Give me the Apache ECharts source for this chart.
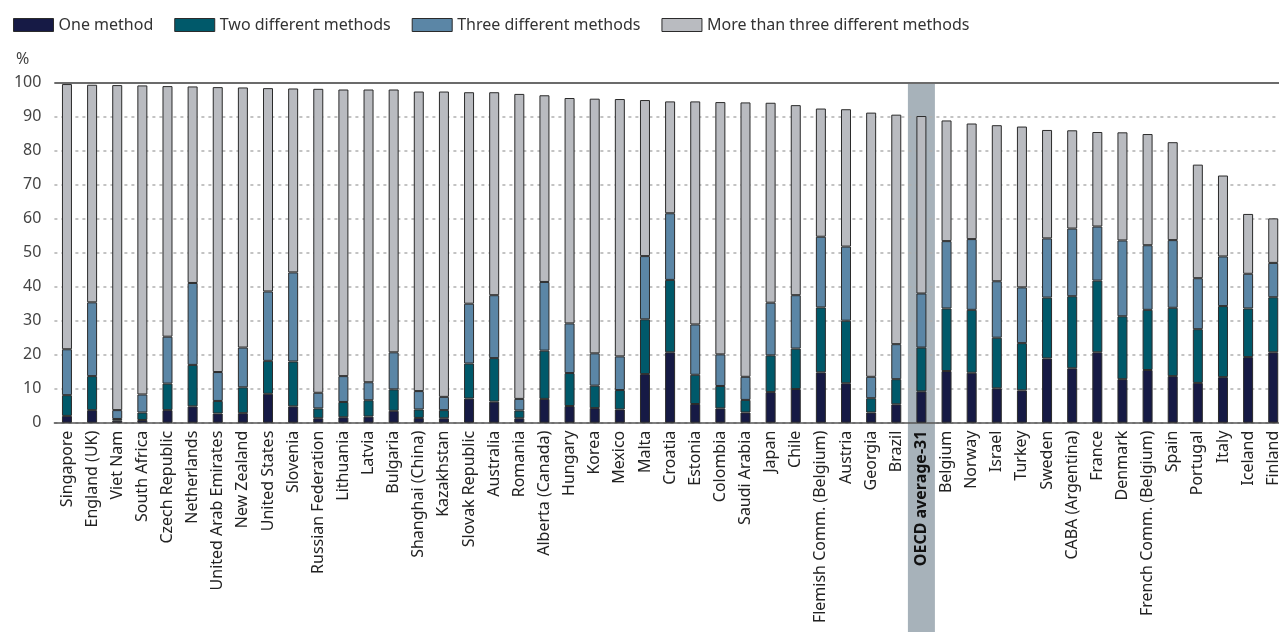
<!DOCTYPE html>
<html>
<head>
<meta charset="utf-8">
<script src="https://cdn.jsdelivr.net/npm/echarts@6/dist/echarts.min.js"></script>
<style>
html,body{margin:0;padding:0;background:#fff;overflow:hidden;}
#chart{width:1287px;height:632px;}
</style>
</head>
<body>
<div id="chart"></div>
<script>
const categories = ["Singapore","England (UK)","Viet Nam","South Africa","Czech Republic","Netherlands","United Arab Emirates","New Zealand","United States","Slovenia","Russian Federation","Lithuania","Latvia","Bulgaria","Shanghai (China)","Kazakhstan","Slovak Republic","Australia","Romania","Alberta (Canada)","Hungary","Korea","Mexico","Malta","Croatia","Estonia","Colombia","Saudi Arabia","Japan","Chile","Flemish Comm. (Belgium)","Austria","Georgia","Brazil","OECD average-31","Belgium","Norway","Israel","Turkey","Sweden","CABA (Argentina)","France","Denmark","French Comm. (Belgium)","Spain","Portugal","Italy","Iceland","Finland"];

const oneMethod = [2.0,3.7,0.6,0.8,3.7,4.8,2.7,2.8,8.5,4.8,1.3,1.6,1.8,3.5,1.4,1.3,7.1,6.2,1.3,7.0,4.9,4.3,3.9,14.3,20.7,5.5,4.2,3.0,9.0,9.9,14.8,11.6,3.0,5.4,9.2,15.2,14.7,10.1,9.5,18.9,16.0,20.7,12.8,15.5,13.7,11.7,13.4,19.3,20.7];

const twoMethods = [6.1,10.0,0.5,2.2,7.8,12.2,3.7,7.6,9.7,13.2,2.9,4.5,4.8,6.3,2.5,2.4,10.3,12.8,2.3,14.2,9.7,6.6,5.7,16.1,21.3,8.6,6.6,3.7,10.8,11.9,19.1,18.4,4.2,7.4,12.9,18.4,18.5,14.9,13.9,17.9,21.2,21.1,18.5,17.7,20.1,15.8,20.9,14.3,16.2];

const threeMethods = [13.5,21.7,2.6,5.3,13.8,24.1,8.5,11.7,20.4,26.2,4.6,7.6,5.3,10.9,5.4,3.9,17.6,18.5,3.4,20.2,14.6,9.5,9.9,18.6,19.6,14.8,9.3,6.8,15.5,15.7,20.8,21.8,6.3,10.3,15.9,19.8,20.8,16.6,16.4,17.4,19.9,15.9,22.3,19.0,19.9,15.0,14.6,10.2,10.1];

const moreMethods = [78.0,64.0,95.6,90.9,73.7,57.8,83.8,76.5,59.8,54.1,89.4,84.3,86.1,77.3,88.1,89.8,62.2,59.7,89.7,54.9,66.3,74.9,75.7,45.9,32.9,65.6,74.2,80.7,58.8,55.9,37.7,40.4,77.7,67.5,52.2,35.5,34.0,45.9,47.3,31.9,28.9,27.8,31.8,32.7,28.8,33.4,23.8,17.6,13.1];

const seriesNames = ["One method","Two different methods","Three different methods","More than three different methods"];
const highlight = "OECD average-31";

const colors = ["#161a45","#00596a","#5b86a6","#b9bbc0"];
const dataSets = [oneMethod, twoMethods, threeMethods, moreMethods];
const FONT = "Noto Sans";

const chart = echarts.init(document.getElementById('chart'), null, {renderer:'canvas'});

const series = dataSets.map((d, i) => ({
  name: seriesNames[i],
  type: 'bar',
  stack: 'total',
  barWidth: 10,
  data: d,
  itemStyle: { color: colors[i], borderColor: '#2b2b2b', borderWidth: 1 },
  emphasis: { disabled: true },
  markLine: i === 0 ? {
    silent: true, symbol: 'none', label: {show: false},
    lineStyle: { color: '#6b6b6b', type: 'solid', width: 2 },
    data: [{ yAxis: 100 }]
  } : undefined
}));

const option = {
  animation: false,
  textStyle: { fontFamily: FONT },
  title: {
    text: '%', left: 11, top: 46,
    textStyle: { fontFamily: FONT, fontSize: 16, fontWeight: 'normal', color: '#444' }
  },
  legend: {
    left: 13, top: 17, padding: 0,
    itemWidth: 40, itemHeight: 13, itemGap: 21,
    icon: 'rect',
    textStyle: { fontFamily: FONT, fontSize: 16, color: '#333' },
    data: seriesNames.map((n, i) => ({ name: n, itemStyle: { color: colors[i], borderColor: '#2b2b2b', borderWidth: 1 } }))
  },
  grid: { left: 54.4, top: 82.7, right: 1.2, bottom: 209.3, containLabel: false },
  xAxis: {
    type: 'category',
    data: categories,
    axisLine: { lineStyle: { color: '#555', width: 1.5 } },
    axisTick: { show: false },
    axisLabel: {
      interval: 0, rotate: 90, fontSize: 16, color: '#222', margin: 8, fontFamily: FONT,
      formatter: v => v === highlight ? '{b|' + v + '}' : v,
      rich: { b: { fontWeight: 'bold', fontSize: 16, color: '#111', fontFamily: FONT } }
    }
  },
  yAxis: {
    type: 'value', min: 0, max: 100, interval: 10,
    axisLine: { show: false },
    axisTick: { show: false },
    axisLabel: { fontSize: 16, color: '#444', margin: 13, fontFamily: FONT },
    splitLine: { lineStyle: { color: '#b0b0b0', type: [3, 4], width: 1.5 } }
  },
  series: series
};

chart.setOption(option);

const cx = chart.convertToPixel({ xAxisIndex: 0 }, highlight);
const topY = chart.convertToPixel({ yAxisIndex: 0 }, 100);
chart.setOption({
  graphic: [{
    type: 'rect', z: -10, silent: true,
    shape: { x: cx - 13.5, y: topY, width: 27, height: 632 - topY },
    style: { fill: '#a7b2ba' }
  }]
});
</script>
</body>
</html>
